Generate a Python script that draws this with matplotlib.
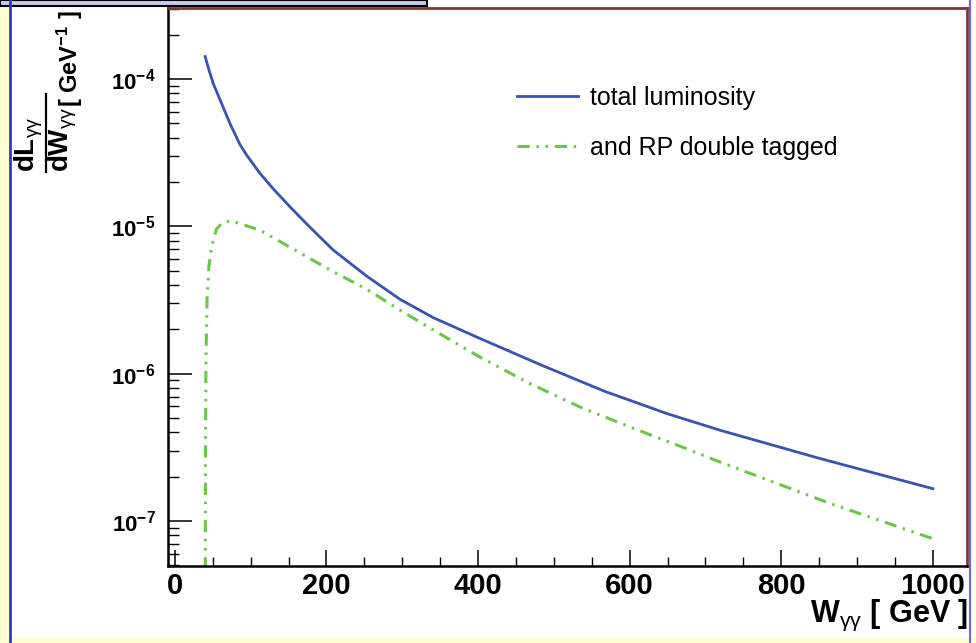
import matplotlib
matplotlib.use("Agg")
import matplotlib.pyplot as plt
from matplotlib.patches import Rectangle
from matplotlib.lines import Line2D
from matplotlib.ticker import LogLocator, MultipleLocator

# photon-photon luminosity
w_total = [40, 44, 50.5, 61.6, 72.6, 85.8, 94.6, 112, 129.7, 151.7, 171.5, 191, 209,
           253, 297, 341, 402, 486, 567, 649, 719, 851, 1000]
lum_total = [1.42e-4, 1.2e-4, 9.35e-5, 6.84e-5, 5.0e-5, 3.6e-5, 3.05e-5, 2.3e-5,
             1.8e-5, 1.36e-5, 1.07e-5, 8.5e-6, 6.9e-6, 4.6e-6, 3.2e-6, 2.4e-6,
             1.74e-6, 1.13e-6, 7.6e-7, 5.37e-7, 4.14e-7, 2.66e-7, 1.66e-7]

w_tagged = [40, 40.4, 41, 42.5, 44.9, 48.4, 55, 63, 74, 112, 143, 174, 209,
            253, 297, 341, 402, 468, 534, 605, 675, 719, 864, 1000]
lum_tagged = [1e-8, 2e-7, 1.2e-6, 3.2e-6, 5.3e-6, 7.3e-6, 9.6e-6, 1.06e-5, 1.09e-5,
              9.44e-6, 7.67e-6, 6.22e-6, 4.92e-6, 3.75e-6, 2.7e-6, 1.98e-6, 1.3e-6,
              8.6e-7, 5.96e-7, 4.26e-7, 3.1e-7, 2.52e-7, 1.32e-7, 7.6e-8]

labels = ["total luminosity", "and RP double tagged"]
x_ticks = [0, 200, 400, 600, 800, 1000]

plt.rcParams["font.family"] = ["Liberation Sans", "DejaVu Sans"]
plt.rcParams["mathtext.fontset"] = "custom"
plt.rcParams["mathtext.rm"] = "Liberation Sans"
plt.rcParams["mathtext.bf"] = "Liberation Sans:bold"
plt.rcParams["mathtext.it"] = "Liberation Sans:italic"
plt.rcParams["axes.unicode_minus"] = False

W, H = 976, 643
fig = plt.figure(figsize=(W / 100, H / 100), dpi=100, facecolor="white")

# slide decorations around the plot
fig.patches.append(Rectangle((0, 0), 9 / W, 1, transform=fig.transFigure, color="#ffffd2", zorder=0))
fig.patches.append(Rectangle((0, 0), 1, 5 / H, transform=fig.transFigure, color="#ffffd2", zorder=0))
fig.add_artist(Line2D([10 / W, 10 / W], [0, 1], transform=fig.transFigure, color="#3333dd", lw=2))
fig.add_artist(Line2D([970 / W, 970 / W], [0, 1], transform=fig.transFigure, color="#6666ee", lw=1.5))
fig.patches.append(Rectangle((0, 1 - 6 / H), 427 / W, 6 / H, transform=fig.transFigure,
                             facecolor="#c8c8f0", edgecolor="black", lw=1.5, zorder=1))

ax = fig.add_axes([168 / W, 77 / H, 799 / W, 558 / H])
ax.plot(w_total, lum_total, color="#3a52b0", lw=2.0, label=labels[0])
ax.plot(w_tagged, lum_tagged, color="#6cc64a", lw=2.2,
        dashes=(4.0, 2.2, 0.8, 2.2, 0.8, 2.2), label=labels[1])

ax.set_yscale("log")
ax.set_xlim(-9, 1045)
ax.set_ylim(4.96e-8, 3.03e-4)

ax.set_xticks(x_ticks)
ax.xaxis.set_minor_locator(MultipleLocator(50))
ax.yaxis.set_major_locator(LogLocator(base=10))
ax.yaxis.set_minor_locator(LogLocator(base=10, subs=range(2, 10)))

ax.tick_params(axis="x", which="major", direction="in", length=11.5, width=1.1,
               labelsize=21, pad=4, top=False)
ax.tick_params(axis="x", which="minor", direction="in", length=6.5, width=1.0, top=False)
ax.tick_params(axis="y", which="major", direction="in", length=17.5, width=1.1,
               labelsize=16, pad=9, right=False)
ax.tick_params(axis="y", which="minor", direction="in", length=8, width=1.0, right=False)
for lab in ax.get_xticklabels() + ax.get_yticklabels():
    lab.set_fontweight("bold")

for s in ["left", "bottom"]:
    ax.spines[s].set_color("black")
    ax.spines[s].set_linewidth(1.8)
for s in ["top", "right"]:
    ax.spines[s].set_color("#7a3a35")
    ax.spines[s].set_linewidth(2.0)

ax.legend(loc="upper left", bbox_to_anchor=((517 - 168) / 799, 1 - (86 - 8) / 558),
          frameon=False, fontsize=18, handlelength=2.45, handletextpad=0.48,
          labelspacing=1.03, borderpad=0, borderaxespad=0)

fig.text(968 / W, 1 - 622 / H, r"$\mathbf{W}_{\mathrm{\gamma\gamma}}$ [ GeV ]", ha="right",
         va="baseline", fontsize=22, fontweight="bold")

# y title, ROOT style: a fraction, then the unit continuing upwards
fig.text(29 / W, 1 - 172 / H, r"$\mathbf{dL}_{\mathrm{\gamma\gamma}}$", rotation=90,
         ha="center", va="bottom", fontsize=20)
fig.text(63 / W, 1 - 172 / H, r"$\mathbf{dW}_{\mathrm{\gamma\gamma}}$", rotation=90,
         ha="center", va="bottom", fontsize=20)
fig.add_artist(Line2D([46 / W, 46 / W], [1 - 172 / H, 1 - 94 / H],
                      transform=fig.transFigure, color="black", lw=1.6))
fig.text(70 / W, 1 - 10 / H, r"[ GeV$^{\mathbf{-1}}$ ]",
         rotation=90, ha="center", va="top", fontsize=17, fontweight="bold")

fig.savefig("out.png", dpi=100, facecolor="white")
